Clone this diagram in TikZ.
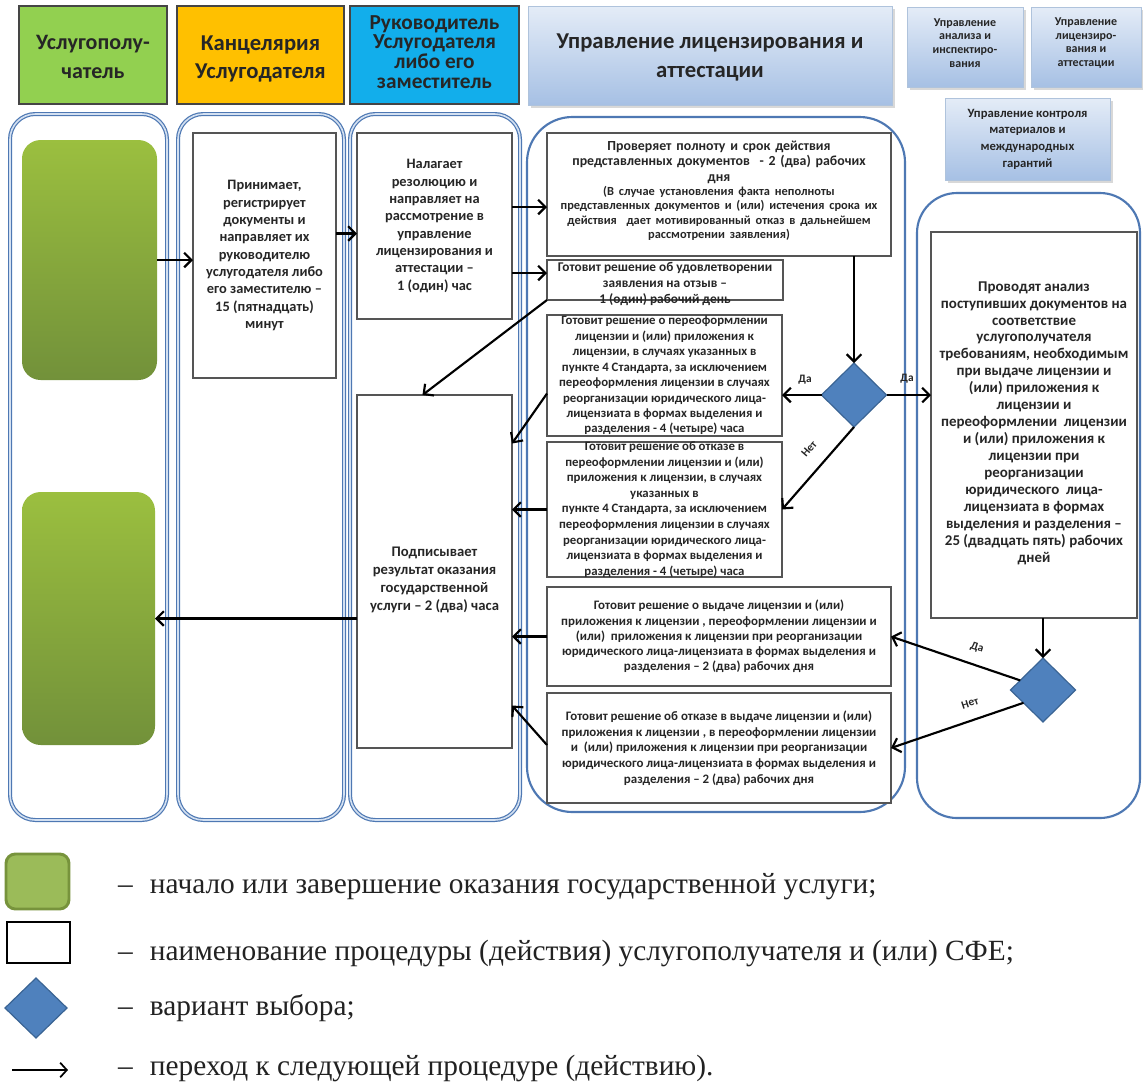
\documentclass[tikz,border=0pt]{standalone}
\usepackage{fontspec}
\setmainfont{Liberation Serif}
\newfontfamily\cbr{Carlito}
\usetikzlibrary{arrows.meta,calc,fit,shapes.geometric,shadows}

\definecolor{ink}{HTML}{262626}
\definecolor{legink}{HTML}{222222}
\definecolor{hgreen}{HTML}{92D050}
\definecolor{horange}{HTML}{FFC000}
\definecolor{hcyan}{HTML}{12AEEB}
\definecolor{hdredge}{HTML}{454545}
\definecolor{hdrtop}{HTML}{E4ECF7}
\definecolor{hdrbot}{HTML}{A6C0E4}
\definecolor{hdrline}{HTML}{AFC3DC}
\definecolor{lanec}{HTML}{4E78B3}
\definecolor{laned}{HTML}{D3E0F1}
\definecolor{gtop}{HTML}{9BBF3F}
\definecolor{gbot}{HTML}{72913A}
\definecolor{boxedge}{HTML}{555555}
\definecolor{dfill}{HTML}{4F81BD}
\definecolor{dedge}{HTML}{3A6494}
\definecolor{lgfill}{HTML}{9BBB59}
\definecolor{lgedge}{HTML}{77933C}

\begin{document}
\begin{tikzpicture}[x=0.75pt,y=-0.75pt,
  every node/.style={inner sep=0pt,outer sep=0pt},
  hdr/.style={draw=hdredge,line width=0.9pt},
  hdrtxt/.style={align=center,text=ink,font=\cbr\bfseries\fontsize{16.5}{21.5}\selectfont},
  bluehdr/.style={draw=hdrline,line width=0.6pt,top color=hdrtop,bottom color=hdrbot,
    drop shadow={shadow xshift=2pt,shadow yshift=-2pt,opacity=0.3}},
  lane/.style={draw=lanec,double=laned,line width=0.9pt,double distance=1.2pt,
    rounded corners=19pt},
  biglane/.style={draw=lanec,line width=1.6pt,rounded corners=32pt},
  startbox/.style={rounded corners=14pt,top color=gtop,bottom color=gbot},
  pbox/.style={draw=boxedge,line width=0.9pt,fill=white},
  txt/.style={text=ink,align=center,font=\cbr\bfseries\fontsize{10.8}{13}\selectfont},
  choice/.style={diamond,aspect=1,fill=dfill,draw=dedge,line width=0.9pt,
    minimum width=48.75pt,minimum height=48pt},
  arr/.style={draw=black,line width=1.6pt,-{Straight Barb[length=5.5pt,width=11pt]}},
  lbl/.style={text=ink,font=\cbr\bfseries\fontsize{8.5}{10}\selectfont},
  legtxt/.style={anchor=base west,text=legink,font=\fontsize{22}{26}\selectfont}
]
\useasboundingbox (0,0) rectangle (1143,1083);
\fill[white] (0,0) rectangle (1143,1083);

% column headers
\node[hdr,fill=hgreen,fit={(19,6) (167,104)}] (H1) {};
\node[hdrtxt] (H1t) at ($(H1.center)+(0,2)$) {Услугополу-\\чатель};
\node[hdr,fill=horange,fit={(177,6) (344,104)}] (H2) {};
\node[hdrtxt,font=\cbr\bfseries\fontsize{17}{20.5}\selectfont] (H2t) at ($(H2.center)+(0,4)$) {Канцелярия\\Услугодателя};
\node[hdr,fill=hcyan,fit={(350,6) (519,104)}] (H3) {};
\node[hdrtxt,font=\cbr\bfseries\fontsize{16}{14.8}\selectfont] (H3t) at ($(H3.center)+(0,-3)$)
  {Руководитель\\Услугодателя\\либо его\\заместитель};
\node[bluehdr,fit={(528,6) (892,105)}] (H4) {};
\node[hdrtxt,font=\cbr\bfseries\fontsize{17}{22}\selectfont] (H4t) at ($(H4.center)+(0,2)$)
  {Управление лицензирования и\\аттестации};
\node[bluehdr,fit={(907,7) (1023,87)}] (H5) {};
\node[hdrtxt,font=\cbr\bfseries\fontsize{9}{10.3}\selectfont] (H5t) at ($(H5.center)+(0,-4)$)
  {Управление\\анализа и\\инспектиро-\\вания};
\node[bluehdr,fit={(1031,7) (1141,87)}] (H6) {};
\node[hdrtxt,font=\cbr\bfseries\fontsize{9}{10.3}\selectfont] (H6t) at ($(H6.center)+(0,-4)$)
  {Управление\\лицензиро-\\вания и\\аттестации};
\node[bluehdr,fit={(945,98) (1110,180)}] (H7) {};
\node[hdrtxt,font=\cbr\bfseries\fontsize{9.5}{12.5}\selectfont] (H7t) at (H7.center)
  {Управление контроля\\материалов и\\международных\\гарантий};

% swimlanes
\node[lane,fit={(10,114) (167,820)}] (L1) {};
\node[lane,fit={(178,114) (344,820)}] (L2) {};
\node[lane,fit={(350,114) (520,820)}] (L3) {};
\node[biglane,rounded corners=34pt,fit={(527,117) (905,812)}] (L4) {};
\node[biglane,rounded corners=30pt,fit={(917,193) (1140,818)}] (L5) {};

% start / end terminals
\node[startbox,fit={(22,140) (157,380)}] (G1) {};
\node[startbox,fit={(22,492) (155,745)}] (G2) {};

% procedure boxes
\node[pbox,fit={(193,133) (336,378)}] (B1) {};
\node[txt] (B1t) at (B1.center)
  {Принимает,\\регистрирует\\документы и\\направляет их\\руководителю\\услугодателя либо\\его заместителю –\\15 (пятнадцать)\\минут};
\node[pbox,fit={(357,133) (512,319)}] (B2) {};
\node[txt] (B2t) at (B2.center)
  {Налагает\\резолюцию и\\направляет на\\рассмотрение в\\управление\\лицензирования и\\аттестации –\\1 (один) час};
\node[pbox,fit={(357,395) (512,748)}] (B3) {};
\node[txt,font=\cbr\bfseries\fontsize{11}{13.5}\selectfont] (B3t) at ($(B3.center)+(0,8)$)
  {Подписывает\\результат оказания\\государственной\\услуги – 2 (два) часа};

\node[pbox,fit={(547,133) (891,256)}] (C1) {};
\node[txt,text width=330pt] (C1t) at ($(C1.center)+(0,-4)$)
  {\fontsize{10.4}{11.8}\selectfont Проверяет полноту и срок действия\\
   представленных документов~ - 2 (два) рабочих\\дня\par
   \fontsize{9.3}{10.6}\selectfont (В случае установления факта неполноты\\
   представленных документов и (или) истечения срока их\\
   действия~ дает мотивированный отказ в дальнейшем\\
   рассмотрении заявления)\par};
\node[pbox,fit={(547,260) (783,300)}] (C2) {};
\node[txt,font=\cbr\bfseries\fontsize{10}{12}\selectfont] (C2t) at ($(C2.center)+(0,4)$)
  {Готовит решение об удовлетворении\\заявления на отзыв –\\1 (один) рабочий день};
\node[pbox,fit={(547,315) (782,436)}] (C3) {};
\node[txt,font=\cbr\bfseries\fontsize{9.6}{11.6}\selectfont] (C3t) at (C3.center)
  {Готовит решение о переоформлении\\лицензии и (или) приложения к\\лицензии, в случаях указанных в\\пункте 4 Стандарта, за исключением\\переоформления лицензии в случаях\\реорганизации юридического лица-\\лицензиата в формах выделения и\\разделения - 4 (четыре) часа};
\node[pbox,fit={(547,442) (782,577)}] (C4) {};
\node[txt,font=\cbr\bfseries\fontsize{9.6}{11.7}\selectfont] (C4t) at (C4.center)
  {Готовит решение об отказе в\\переоформлении лицензии и (или)\\приложения к лицензии, в случаях\\указанных в\\пункте 4 Стандарта, за исключением\\переоформления лицензии в случаях\\реорганизации юридического лица-\\лицензиата в формах выделения и\\разделения - 4 (четыре) часа};
\node[pbox,fit={(547,587) (891,686)}] (C5) {};
\node[txt,font=\cbr\bfseries\fontsize{9.7}{11.4}\selectfont] (C5t) at (C5.center)
  {Готовит решение о выдаче лицензии и (или)\\приложения к лицензии , переоформлении лицензии и\\(или)~ приложения к лицензии при реорганизации\\юридического лица-лицензиата в формах выделения и\\разделения – 2 (два) рабочих дня};
\node[pbox,fit={(547,693) (891,803)}] (C6) {};
\node[txt,font=\cbr\bfseries\fontsize{9.7}{11.8}\selectfont] (C6t) at (C6.center)
  {Готовит решение об отказе в выдаче лицензии и (или)\\приложения к лицензии , в переоформлении лицензии\\и~ (или) приложения к лицензии при реорганизации\\юридического лица-лицензиата в формах выделения и\\разделения – 2 (два) рабочих дня};

\node[pbox,fit={(931,232) (1137,618)}] (E1) {};
\node[txt,font=\cbr\bfseries\fontsize{11.2}{12.7}\selectfont] (E1t) at ($(E1.center)+(0,-2)$)
  {Проводят анализ\\поступивших документов на\\соответствие\\услугополучателя\\требованиям, необходимым\\при выдаче лицензии и\\(или) приложения к\\лицензии и\\переоформлении~ лицензии\\и (или) приложения к\\лицензии при\\реорганизации\\юридического~ лица-\\лицензиата в формах\\выделения и разделения –\\25 (двадцать пять) рабочих\\дней};

% decisions
\node[choice] (D1) at (854,395) {};
\node[choice] (D2) at (1043,690) {};

% flow
\draw[arr] (G1.east) -- (G1.east -| B1.west);
\draw[arr] ($(B1.east)+(0,-22)$) -- ($(B1.east -| B2.west)+(0,-22)$);
\draw[arr] ($(B2.east)+(0,-19)$) -- ($(B2.east -| C1.west)+(0,-19)$);
\draw[arr] ($(B2.east)+(0,47)$) -- ($(B2.east -| C2.west)+(0,47)$);
\draw[arr] (C2.south west) -- ($(B3.north)+(-12,0)$);
\draw[arr] (D1.north |- C1.south) -- (D1.north);
\draw[arr] (D1.west) -- (D1.west -| C3.east);
\draw[arr] (D1.east) -- (D1.east -| E1.west);
\draw[arr] (D1.south) -- (C4.east);
\draw[arr] ($(C3.west)+(0,18)$) -- ($(B3.east)+(0,-128)$);
\draw[arr] (C4.west) -- (C4.west -| B3.east);
\draw[arr] (C5.west) -- (C5.west -| B3.east);
\draw[arr] ($(C6.west)+(0,-3)$) -- ($(B3.east)+(0,134)$);
\draw[arr] (D2.north |- E1.south) -- (D2.north);
\draw[arr] ($(D2.west)!0.3!(D2.north)$) -- (C5.east);
\draw[arr] ($(D2.west)!0.4!(D2.south)$) -- (C6.east);
\draw[arr] (B3.west |- G2.east) -- (G2.east);

% branch labels
\node[lbl] (y1) at (805,380) {Да};
\node[lbl] (y2) at (907,379) {Да};
\node[lbl,rotate=49] (n1) at (809,449) {Нет};
\node[lbl,rotate=-18] (y3) at (977,648) {Да};
\node[lbl,rotate=18] (n2) at (970,703) {Нет};

% legend
\node[fill=lgfill,draw=lgedge,line width=2.2pt,rounded corners=7pt,fit={(6,854) (69,909)}] (K1) {};
\node[draw=black,line width=0.8pt,fill=white,fit={(7,922) (70,963)}] (K2) {};
\node[choice,minimum width=46.5pt,minimum height=45pt] (K3) at (36,1008) {};
\coordinate (K4a) at (12,1070);
\coordinate (K4b) at (68,1070);
\draw[draw=black,line width=1.3pt,-{Straight Barb[length=5pt,width=11pt]}] (K4a) -- (K4b);

\node[legtxt] (T1) at (118,893) {–\hspace{13pt}начало или завершение оказания государственной услуги;};
\node[legtxt] (T2) at (118,960) {–\hspace{13pt}наименование процедуры (действия) услугополучателя и (или) СФЕ;};
\node[legtxt] (T3) at (118,1015) {–\hspace{13pt}вариант выбора;};
\node[legtxt] (T4) at (118,1075) {–\hspace{13pt}переход к следующей процедуре (действию).};
\end{tikzpicture}
\end{document}
